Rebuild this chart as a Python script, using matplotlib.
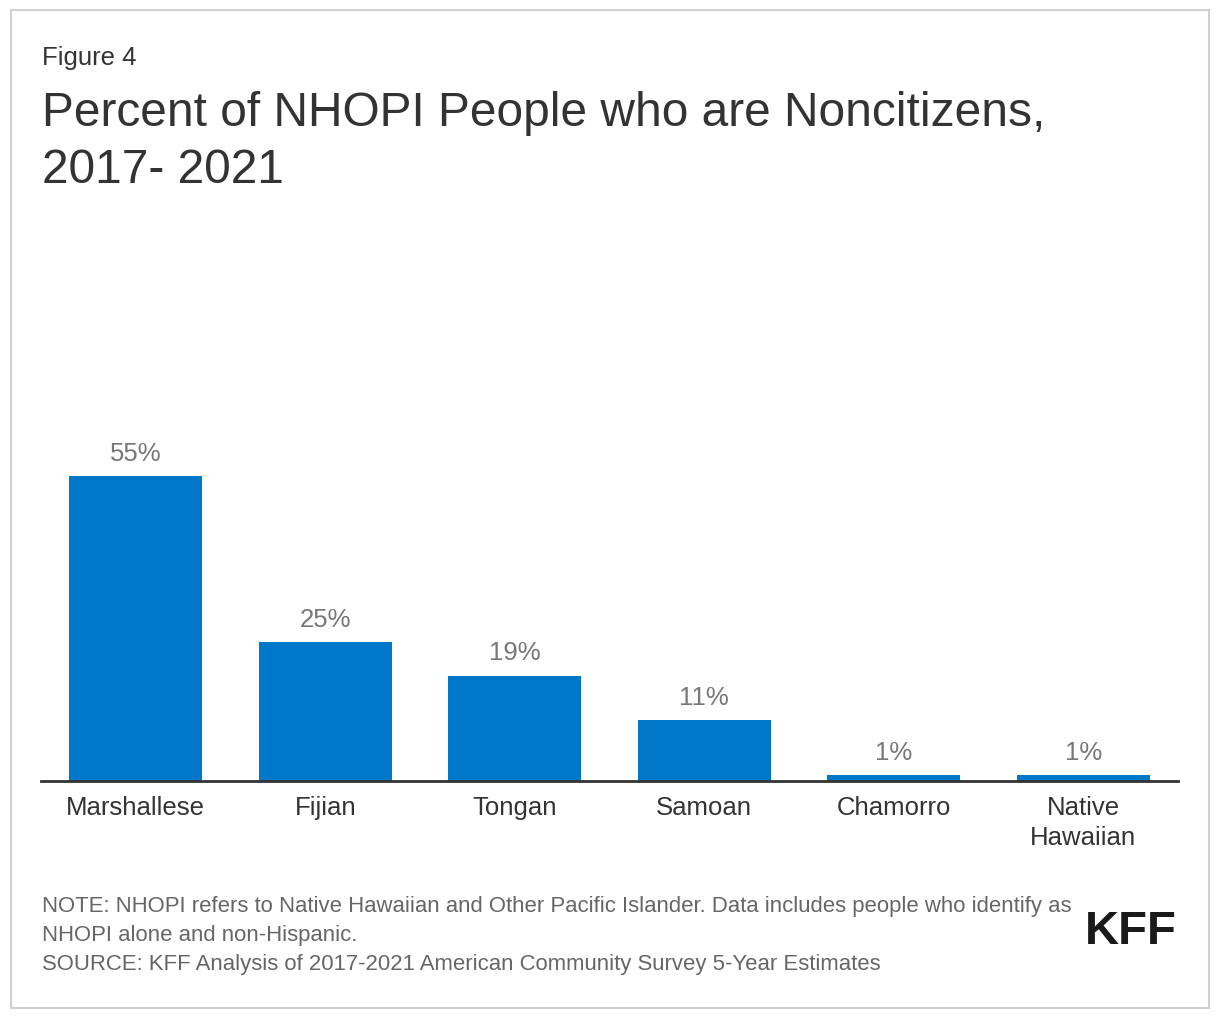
import matplotlib.pyplot as plt
from matplotlib.patches import Rectangle

plt.rcParams['font.family'] = ['Liberation Sans', 'DejaVu Sans']

groups = ['Marshallese', 'Fijian', 'Tongan', 'Samoan', 'Chamorro', 'Native\nHawaiian']
pct = [55, 25, 19, 11, 1, 1]
labels = ['55%', '25%', '19%', '11%', '1%', '1%']

fig = plt.figure(figsize=(12.2, 10.2), dpi=100)
W, H = 1220, 1020

# outer frame
fig.patches.append(Rectangle((11 / W, 11 / H), 1198 / W, 998 / H, transform=fig.transFigure,
                             fill=False, edgecolor='#d0d0d0', linewidth=1.5))

ax = fig.add_axes([41 / W, (H - 782) / H, (1178 - 41) / W, 390 / H])
x = range(len(groups))
ax.bar(x, pct, width=0.70, color='#0077c8')
for i, v in enumerate(pct):
    ax.text(i, v + 2.0, labels[i], ha='center', va='bottom', fontsize=18.5, color='#777777')
ax.set_xlim(-0.5, len(groups) - 0.5)
ax.set_ylim(0, 70.3)
ax.set_yticks([])
ax.set_xticks(list(x))
ax.set_xticklabels(groups, fontsize=18.5, color='#333333', linespacing=1.3)
ax.tick_params(axis='x', length=0, pad=10)
for s in ['top', 'right', 'left']:
    ax.spines[s].set_visible(False)
ax.spines['bottom'].set_color('#333333')
ax.spines['bottom'].set_linewidth(2)

fig.text(42 / W, 1 - 58 / H, 'Figure 4', fontsize=18.5, color='#333333', va='center')
fig.text(42 / W, 1 - 113 / H, 'Percent of NHOPI People who are Noncitizens,', fontsize=34.5,
         color='#333333', va='center')
fig.text(42 / W, 1 - 171 / H, '2017- 2021', fontsize=34.5, color='#333333', va='center')

fig.text(42 / W, 1 - 907 / H, 'NOTE: NHOPI refers to Native Hawaiian and Other Pacific Islander. '
         'Data includes people who identify as', fontsize=15.9, color='#666666', va='center')
fig.text(42 / W, 1 - 936 / H, 'NHOPI alone and non-Hispanic.', fontsize=15.9, color='#666666', va='center')
fig.text(42 / W, 1 - 965 / H, 'SOURCE: KFF Analysis of 2017-2021 American Community Survey 5-Year Estimates',
         fontsize=15.9, color='#666666', va='center')
fig.text(1177 / W, 1 - 932 / H, 'KFF', fontsize=34, fontweight='bold', color='#1a1a1a',
         ha='right', va='center')

fig.savefig('out.png', dpi=100)
